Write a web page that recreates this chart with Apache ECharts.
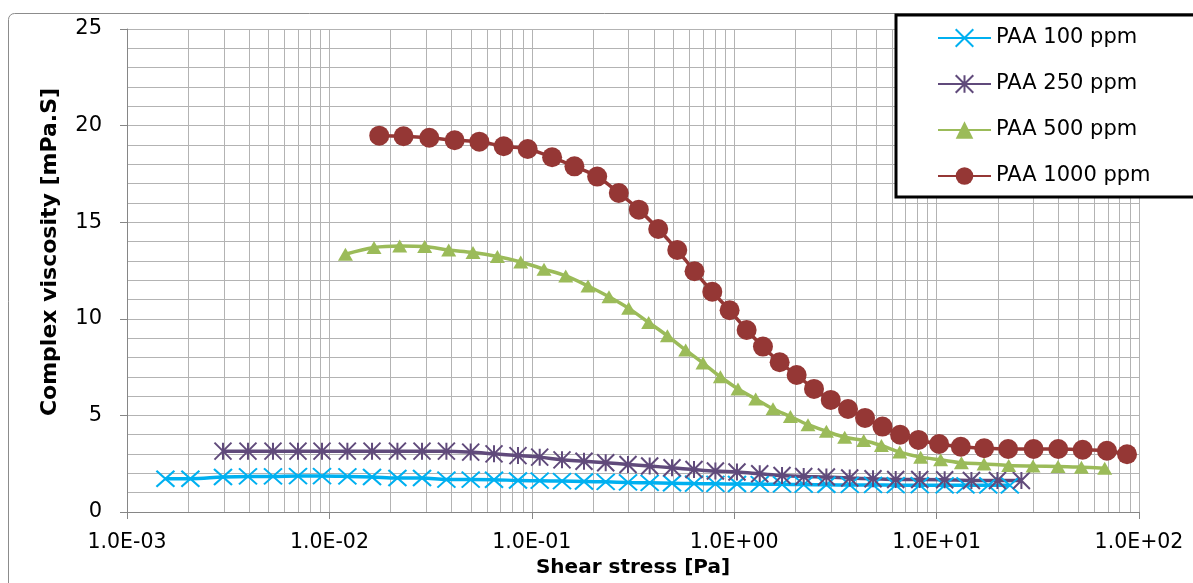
<!DOCTYPE html>
<html><head><meta charset="utf-8">
<script src="https://cdn.jsdelivr.net/npm/echarts@6/dist/echarts.min.js"></script>
<style>html,body{margin:0;padding:0;background:#fff}#c{width:1193px;height:583px}</style>
</head><body><div id="c"></div>
<script>
const seriesNames = ['PAA 100 ppm', 'PAA 250 ppm', 'PAA 500 ppm', 'PAA 1000 ppm'];

const x100 = [0.001548, 0.002057, 0.002980, 0.003960, 0.005263, 0.006996, 0.009192, 0.01227, 0.01624, 0.02168, 0.02868, 0.03785, 0.04990, 0.06506, 0.08546, 0.1094, 0.1410, 0.1811, 0.2318, 0.2988, 0.3823, 0.4929, 0.6330, 0.8075, 1.032, 1.337, 1.723, 2.205, 2.854, 3.722, 4.852, 6.280, 8.253, 10.96, 13.9, 18.0, 23.0];
const y100 = [1.72, 1.72, 1.81, 1.84, 1.84, 1.86, 1.86, 1.84, 1.81, 1.76, 1.76, 1.68, 1.68, 1.67, 1.63, 1.62, 1.60, 1.58, 1.56, 1.53, 1.51, 1.49, 1.47, 1.46, 1.45, 1.44, 1.43, 1.42, 1.41, 1.40, 1.40, 1.39, 1.39, 1.38, 1.38, 1.38, 1.38];

const x250 = [0.002980, 0.003960, 0.005263, 0.006996, 0.009192, 0.01227, 0.01624, 0.02168, 0.02868, 0.03785, 0.04990, 0.06506, 0.08546, 0.1094, 0.1410, 0.1811, 0.2318, 0.2988, 0.3823, 0.4929, 0.6330, 0.8075, 1.032, 1.337, 1.723, 2.205, 2.854, 3.722, 4.852, 6.280, 8.253, 10.96, 14.86, 19.98, 26.24];
const y250 = [3.15, 3.15, 3.15, 3.15, 3.15, 3.15, 3.15, 3.15, 3.15, 3.15, 3.10, 3.01, 2.92, 2.84, 2.70, 2.63, 2.55, 2.46, 2.38, 2.29, 2.20, 2.12, 2.07, 1.98, 1.89, 1.84, 1.81, 1.76, 1.72, 1.68, 1.68, 1.67, 1.63, 1.63, 1.63];

const x500 = [0.01200, 0.01661, 0.02225, 0.02957, 0.03886, 0.05123, 0.06761, 0.08815, 0.1149, 0.1471, 0.1895, 0.2406, 0.3011, 0.3780, 0.4677, 0.5759, 0.7012, 0.8546, 1.044, 1.277, 1.555, 1.895, 2.315, 2.854, 3.515, 4.364, 5.337, 6.573, 8.343, 10.47, 13.26, 17.15, 22.71, 29.95, 39.80, 51.93, 67.69];
const y500 = [13.34, 13.69, 13.77, 13.74, 13.56, 13.43, 13.22, 12.94, 12.57, 12.22, 11.70, 11.14, 10.54, 9.81, 9.12, 8.38, 7.71, 7.00, 6.37, 5.85, 5.34, 4.94, 4.52, 4.18, 3.87, 3.70, 3.44, 3.10, 2.84, 2.70, 2.55, 2.49, 2.41, 2.38, 2.36, 2.32, 2.27];

const x1000 = [0.01763, 0.02325, 0.03115, 0.04157, 0.05506, 0.07261, 0.09543, 0.1260, 0.1624, 0.2104, 0.2690, 0.3378, 0.4213, 0.5232, 0.6369, 0.7794, 0.9491, 1.152, 1.387, 1.677, 2.035, 2.479, 2.999, 3.650, 4.430, 5.401, 6.600, 8.138, 10.29, 13.17, 17.18, 22.57, 30.15, 39.90, 52.66, 69.45, 87.27];
const y1000 = [19.48, 19.45, 19.37, 19.24, 19.17, 18.93, 18.79, 18.36, 17.89, 17.36, 16.51, 15.65, 14.65, 13.56, 12.46, 11.40, 10.44, 9.42, 8.56, 7.75, 7.09, 6.37, 5.80, 5.33, 4.87, 4.42, 4.00, 3.73, 3.52, 3.38, 3.30, 3.26, 3.26, 3.26, 3.22, 3.17, 2.99];

const xTickLabels = ['1.0E-03', '1.0E-02', '1.0E-01', '1.0E+00', '1.0E+01', '1.0E+02'];
const xMinorGrid = [0.002, 0.003, 0.004, 0.005, 0.006, 0.007, 0.008, 0.009,
  0.02, 0.03, 0.04, 0.05, 0.06, 0.07, 0.08, 0.09,
  0.2, 0.3, 0.4, 0.5, 0.6, 0.7, 0.8, 0.9,
  2, 3, 4, 5, 6, 7, 8, 9,
  20, 30, 40, 50, 60, 70, 80, 90];

const xTitle = 'Shear stress [Pa]';
const yTitle = 'Complex viscosity [mPa.S]';

const FONT = '"DejaVu Sans", sans-serif';
const GRID_COLOR = '#b3b3b3';
const AXIS_COLOR = '#868686';

const zip = (xs, ys) => xs.map((x, i) => [x, ys[i]]);

const chart = echarts.init(document.getElementById('c'), null, { renderer: 'canvas' });

const lineSeries = (name, xs, ys, color, symbol, size, extra) => Object.assign({
  type: 'line', name, data: zip(xs, ys), smooth: 0.35, symbol, symbolSize: size,
  showAllSymbol: true, z: 3,
  lineStyle: { color, width: 3.5 },
  itemStyle: { color, borderColor: color, borderWidth: 0 },
  emphasis: { disabled: true }
}, extra || {});

const option = {
  animation: false,
  backgroundColor: '#fff',
  grid: { left: 127, top: 29, right: 54, bottom: 70, containLabel: false },
  xAxis: {
    type: 'log', logBase: 10, min: 0.001, max: 100,
    axisLine: { show: true, onZero: false, lineStyle: { color: AXIS_COLOR, width: 1 } },
    axisTick: { show: true, length: 7, lineStyle: { color: AXIS_COLOR } },
    axisLabel: {
      margin: 20, color: '#000', fontFamily: FONT, fontSize: 20.5,
      formatter: v => xTickLabels[Math.round(Math.log10(v)) + 3]
    },
    splitLine: { show: true, lineStyle: { color: GRID_COLOR, width: 1 } },
    name: xTitle, nameLocation: 'middle', nameGap: 46,
    nameTextStyle: { color: '#000', fontFamily: FONT, fontSize: 20, fontWeight: 'bold', verticalAlign: 'top' }
  },
  yAxis: {
    type: 'value', min: 0, max: 25, interval: 5,
    axisLine: { show: true, lineStyle: { color: AXIS_COLOR, width: 1 } },
    axisTick: { show: true, length: 7, lineStyle: { color: AXIS_COLOR } },
    axisLabel: { margin: 25, color: '#000', fontFamily: FONT, fontSize: 21 },
    splitLine: { show: true, lineStyle: { color: GRID_COLOR, width: 1 } },
    minorTick: { show: false, splitNumber: 5 },
    minorSplitLine: { show: true, lineStyle: { color: GRID_COLOR, width: 1 } }
  },
  legend: {
    data: seriesNames,
    left: 896, top: 15,
    orient: 'vertical',
    padding: [12, 80, 10, 41],
    itemWidth: 53, itemHeight: 22, itemGap: 24,
    backgroundColor: '#fff', borderColor: '#000', borderWidth: 3,
    selectedMode: false,
    textStyle: { color: '#000', fontFamily: FONT, fontSize: 21, lineHeight: 22 }
  },
  graphic: [
    { type: 'rect', z: -10, silent: true, shape: { x: 8.5, y: 13.5, width: 1400, height: 700, r: 6 },
      style: { fill: 'none', stroke: '#8c8c8c', lineWidth: 1 } },
    { type: 'text', x: 50, y: 252, rotation: Math.PI / 2, silent: true,
      style: { text: yTitle, font: 'bold 22px ' + FONT, fill: '#000', align: 'center', verticalAlign: 'middle' } }
  ],
  series: [
    {
      type: 'custom', name: 'minor-grid', silent: true, z: 1,
      data: xMinorGrid.map(v => [v, 0]),
      encode: { x: 0, y: 1 },
      renderItem: (params, api) => {
        const p1 = api.coord([api.value(0), 0]);
        const p2 = api.coord([api.value(0), 25]);
        const x = Math.round(p1[0]) + 0.5;
        return { type: 'line', shape: { x1: x, y1: p1[1], x2: x, y2: p2[1] },
          style: { stroke: GRID_COLOR, lineWidth: 1 } };
      }
    },
    lineSeries(seriesNames[0], x100, y100, '#00B0F0', 'path://M0,0L10,10M10,0L0,10', [18, 16],
      { itemStyle: { color: '#00B0F0', borderColor: '#00B0F0', borderWidth: 2 } }),
    lineSeries(seriesNames[1], x250, y250, '#604A7B', 'path://M0,0L10,10M10,0L0,10M5,0L5,10', [17, 17],
      { itemStyle: { color: '#604A7B', borderColor: '#604A7B', borderWidth: 2 } }),
    lineSeries(seriesNames[2], x500, y500, '#9BBB59', 'triangle', [15, 13]),
    lineSeries(seriesNames[3], x1000, y1000, '#953735', 'circle', 20)
  ]
};
chart.setOption(option);
</script>
</body></html>
